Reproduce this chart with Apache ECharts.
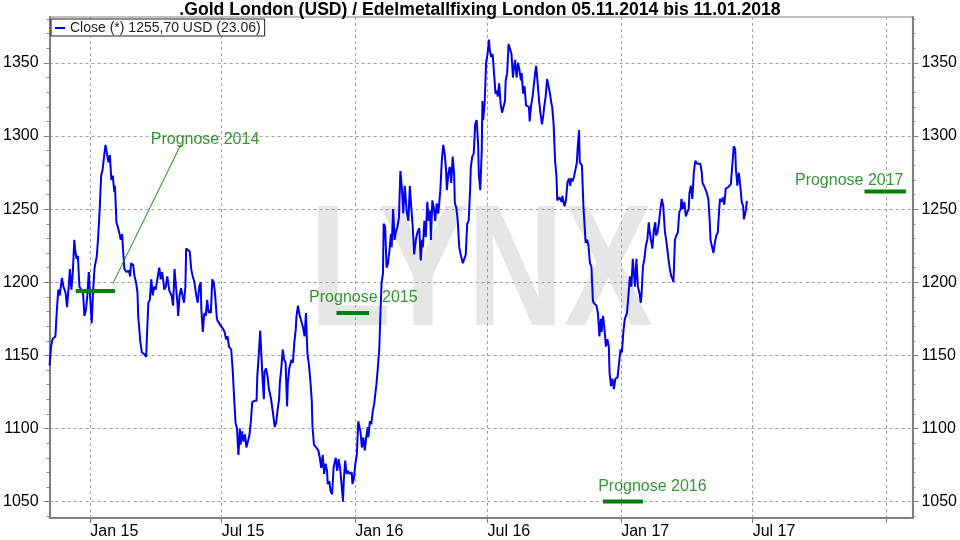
<!DOCTYPE html>
<html><head><meta charset="utf-8">
<script src="https://cdn.jsdelivr.net/npm/echarts@6/dist/echarts.min.js"></script>
<style>html,body{margin:0;padding:0;background:#fff}#c{width:960px;height:540px}</style>
</head><body><div id="c"></div>
<script>
const titleText = '.Gold London (USD) / Edelmetallfixing London 05.11.2014 bis 11.01.2018';
const legendText = 'Close (*) 1255,70 USD (23.06)';

// Close prices: [MM-DD, value] per year
const close2014 = [['11-06',1143],['11-08',1156],['11-10',1161],['11-14',1163],['11-16',1181],['11-18',1195],['11-20',1191],['11-23',1203],['11-25',1197],['11-28',1193],['11-30',1183],
['12-02',1195],['12-04',1209],['12-06',1195],['12-08',1207],['12-10',1229],['12-11',1223],['12-13',1216],['12-15',1218],['12-17',1197],['12-19',1196],['12-22',1193],['12-24',1177],['12-26',1181],['12-28',1191],['12-30',1207],['12-31',1197]];
const close2015 = [['01-03',1172],['01-05',1195],['01-07',1210],['01-10',1218],['01-12',1232],['01-14',1250],['01-16',1273],['01-18',1277],['01-20',1286],['01-22',1294],['01-24',1293],['01-26',1282],['01-28',1287],['01-30',1270],
['02-01',1273],['02-03',1262],['02-04',1266],['02-06',1241],['02-09',1236],['02-12',1229],['02-14',1233],['02-15',1223],['02-17',1209],['02-20',1207],['02-23',1208],['02-25',1204],['02-26',1213],
['03-01',1212],['03-03',1204],['03-05',1200],['03-07',1193],['03-08',1177],['03-11',1159],['03-13',1152],['03-16',1151],['03-19',1149],['03-20',1163],['03-22',1186],['03-24',1188],['03-26',1202],['03-28',1191],['03-30',1197],
['04-01',1195],['04-04',1204],['04-06',1210],['04-08',1202],['04-10',1207],['04-13',1195],['04-15',1197],['04-17',1204],['04-20',1194],['04-23',1191],['04-25',1184],['04-27',1209],['04-29',1197],
['05-01',1186],['05-02',1177],['05-04',1191],['05-06',1196],['05-08',1191],['05-10',1186],['05-12',1197],['05-13',1223],['05-15',1224],['05-18',1221],['05-20',1209],['05-22',1204],['05-24',1201],['05-27',1191],['05-29',1186],['05-31',1197],
['06-02',1200],['06-03',1181],['06-05',1166],['06-07',1179],['06-09',1177],['06-11',1188],['06-13',1179],['06-14',1181],['06-16',1179],['06-18',1202],['06-20',1200],['06-22',1191],['06-24',1177],['06-25',1174],['06-27',1175],['06-30',1170],
['07-03',1168],['07-05',1166],['07-07',1161],['07-09',1163],['07-11',1156],['07-14',1154],['07-16',1141],['07-18',1122],['07-20',1104],['07-22',1100],['07-24',1082],['07-26',1100],['07-27',1089],['07-29',1098],['07-31',1091],
['08-02',1096],['08-04',1087],['08-06',1086],['08-08',1095],['08-10',1104],['08-12',1118],['08-15',1119],['08-18',1119],['08-19',1136],['08-21',1150],['08-23',1167],['08-26',1136],['08-28',1120],['08-29',1139],['08-31',1141],
['09-02',1136],['09-04',1127],['09-07',1120],['09-08',1120],['09-10',1109],['09-12',1101],['09-14',1104],['09-16',1113],['09-18',1120],['09-19',1131],['09-21',1141],['09-23',1154],['09-25',1147],['09-27',1145],['09-29',1115],['09-30',1131],
['10-02',1141],['10-05',1147],['10-07',1145],['10-09',1159],['10-11',1168],['10-12',1177],['10-14',1184],['10-16',1178],['10-18',1177],['10-21',1169],['10-23',1163],['10-25',1179],['10-27',1151],['10-29',1144],['10-31',1133],
['11-02',1119],['11-03',1101],['11-05',1089],['11-08',1087],['11-11',1085],['11-13',1080],['11-15',1073],['11-17',1082],['11-19',1069],['11-21',1076],['11-23',1071],['11-24',1062],['11-26',1064],['11-28',1057],['11-30',1055],
['12-02',1073],['12-04',1078],['12-05',1080],['12-07',1071],['12-09',1079],['12-11',1073],['12-13',1074],['12-15',1050],['12-16',1064],['12-18',1078],['12-20',1069],['12-22',1071],['12-24',1069],['12-27',1070],['12-28',1062],['12-30',1066]];
const close2016 = [['01-01',1076],['01-03',1082],['01-05',1105],['01-07',1104],['01-08',1098],['01-10',1087],['01-12',1094],['01-14',1085],['01-16',1094],['01-18',1101],['01-19',1094],['01-21',1105],['01-23',1103],['01-25',1112],['01-27',1117],['01-29',1126],['01-30',1130],
['02-01',1142],['02-03',1155],['02-04',1171],['02-06',1199],['02-08',1206],['02-09',1240],['02-11',1238],['02-13',1210],['02-15',1213],['02-17',1222],['02-19',1233],['02-20',1224],['02-22',1250],['02-24',1229],['02-26',1235],['02-28',1238],
['03-01',1244],['03-03',1276],['03-05',1265],['03-07',1247],['03-09',1266],['03-11',1265],['03-12',1247],['03-14',1242],['03-16',1266],['03-18',1251],['03-20',1238],['03-22',1219],['03-23',1224],['03-25',1231],['03-27',1235],['03-29',1237],['03-31',1215],
['04-02',1229],['04-03',1224],['04-05',1242],['04-07',1231],['04-09',1255],['04-11',1242],['04-13',1249],['04-14',1229],['04-16',1256],['04-18',1251],['04-20',1242],['04-22',1254],['04-24',1247],['04-25',1251],['04-27',1263],['04-29',1283],
['05-01',1294],['05-03',1288],['05-05',1276],['05-06',1263],['05-08',1274],['05-10',1279],['05-12',1268],['05-14',1286],['05-16',1274],['05-17',1254],['05-19',1251],['05-21',1242],['05-23',1224],['05-25',1219],['05-27',1215],['05-28',1213],['05-30',1213],
['06-01',1219],['06-03',1240],['06-05',1242],['06-07',1263],['06-08',1279],['06-10',1286],['06-12',1288],['06-14',1308],['06-16',1311],['06-18',1295],['06-19',1274],['06-21',1263],['06-23',1290],['06-24',1324],['06-25',1311],['06-27',1322],['06-29',1350],
['07-01',1356],['07-03',1366],['07-04',1359],['07-06',1354],['07-08',1356],['07-10',1343],['07-12',1329],['07-14',1331],['07-15',1327],['07-17',1336],['07-19',1322],['07-21',1316],['07-23',1315],['07-25',1324],['07-26',1338],['07-28',1343],['07-30',1363],
['08-01',1362],['08-03',1356],['08-05',1340],['08-06',1345],['08-08',1352],['08-10',1340],['08-12',1350],['08-14',1345],['08-16',1338],['08-17',1343],['08-19',1329],['08-21',1334],['08-23',1321],['08-25',1320],['08-27',1320],['08-28',1310],['08-30',1321],
['09-01',1327],['09-03',1336],['09-05',1345],['09-06',1348],['09-08',1336],['09-10',1324],['09-12',1315],['09-14',1308],['09-16',1315],['09-17',1320],['09-19',1327],['09-21',1339],['09-23',1340],['09-25',1329],['09-27',1322],['09-28',1320],['09-30',1308],
['10-02',1283],['10-04',1272],['10-05',1256],['10-08',1258],['10-11',1255],['10-12',1259],['10-15',1252],['10-17',1256],['10-19',1268],['10-21',1271],['10-23',1266],['10-24',1271],['10-26',1269],['10-28',1272],['10-30',1273],
['11-01',1282],['11-02',1291],['11-04',1304],['11-05',1282],['11-08',1280],['11-10',1252],['11-12',1236],['11-13',1227],['11-15',1229],['11-17',1225],['11-19',1213],['11-21',1211],['11-23',1188],['11-24',1186],['11-26',1187],['11-28',1184],['11-30',1179],
['12-02',1163],['12-04',1175],['12-05',1166],['12-07',1177],['12-09',1168],['12-11',1156],['12-13',1161],['12-15',1156],['12-16',1138],['12-18',1129],['12-20',1134],['12-22',1127],['12-24',1134],['12-26',1134],['12-27',1135],['12-29',1136],['12-31',1154]];
const close2017 = [['01-02',1152],['01-04',1166],['01-06',1175],['01-07',1175],['01-09',1179],['01-11',1191],['01-13',1204],['01-15',1197],['01-17',1216],['01-18',1216],['01-20',1197],['01-22',1216],['01-24',1197],['01-26',1193],['01-28',1186],['01-29',1191],['01-31',1211],
['02-02',1216],['02-04',1225],['02-06',1229],['02-08',1241],['02-09',1236],['02-11',1229],['02-13',1223],['02-15',1236],['02-17',1241],['02-18',1232],['02-20',1234],['02-22',1241],['02-24',1250],['02-26',1257],['02-28',1252],
['03-02',1236],['03-03',1232],['03-05',1225],['03-07',1216],['03-09',1209],['03-11',1204],['03-13',1202],['03-14',1200],['03-16',1229],['03-18',1232],['03-20',1234],['03-22',1248],['03-24',1250],['03-25',1257],['03-27',1250],['03-29',1255],['03-31',1245],
['04-02',1248],['04-04',1250],['04-05',1261],['04-07',1266],['04-09',1257],['04-11',1275],['04-13',1283],['04-14',1282],['04-16',1281],['04-18',1282],['04-20',1281],['04-22',1275],['04-23',1268],['04-25',1266],['04-27',1265],['04-29',1261],
['05-01',1257],['05-03',1241],['05-04',1229],['05-06',1228],['05-08',1220],['05-10',1227],['05-12',1232],['05-14',1234],['05-16',1250],['05-17',1257],['05-19',1255],['05-21',1258],['05-23',1253],['05-25',1264],['05-27',1264],['05-28',1265],['05-30',1266],
['06-01',1267],['06-03',1280],['06-05',1293],['06-07',1291],['06-08',1277],['06-10',1266],['06-12',1275],['06-14',1266],['06-16',1255],['06-18',1252],['06-19',1243],['06-21',1243],['06-22',1250],['06-23',1255.7]];

// Axes
const xMin = '2014-11-06';
const xMax = '2018-02-06';
const xTickDates = ['2015-01-01','2015-07-01','2016-01-01','2016-07-01','2017-01-01','2017-07-01','2018-01-01'];
const xTickLabels = ['Jan 15','Jul 15','Jan 16','Jul 16','Jan 17','Jul 17',''];
const yMin = 1038.8, yMax = 1381.4;
const yTicks = [1050,1100,1150,1200,1250,1300,1350];
const yMinorTicks = [1040,1060,1070,1080,1090,1110,1120,1130,1140,1160,1170,1180,1190,1210,1220,1230,1240,1260,1270,1280,1290,1310,1320,1330,1340,1360,1370,1380];

// Forecasts (Prognose)
const prognoseNames = ['Prognose 2014','Prognose 2015','Prognose 2016','Prognose 2017'];
const prognoseValues = [1194, 1179, 1050, 1262];
const prognoseStart = ['2014-12-12','2015-12-06','2016-12-07','2017-12-02'];
const prognoseEnd = ['2015-02-04','2016-01-20','2017-01-31','2018-01-28'];
// label anchors (data coordinates)
const labelAnchorDates = ['2015-06-08','2016-01-12','2017-02-13','2017-11-11'];
const labelAnchorValues = [1297.5, 1189.6, 1060, 1269.7];
const leaderDates = ['2015-02-01','2015-05-06'];
const leaderValues = [1199, 1294.4];

const pd = s => echarts.number.parseDate(s).getTime();
const closeData = [];
[[2014, close2014],[2015, close2015],[2016, close2016],[2017, close2017]].forEach(([yr, arr]) => {
  arr.forEach(([md, v]) => closeData.push([pd(yr + '-' + md), v]));
});
const xTickValues = xTickDates.map(pd);
const xLabelValues = xTickValues.filter((v, i) => xTickLabels[i] !== '');

const FONT = '"Liberation Sans", Arial, sans-serif';
const GREEN = '#008000';
const AX = '#808080';
const GRIDC = '#a0a0a0';

const series = [{
  name: 'Close', type: 'line', data: closeData, showSymbol: false, symbol: 'none',
  lineStyle: {color: '#0000f0', width: 2}, itemStyle: {color: '#0000f0'}, z: 3, silent: true
}];
prognoseNames.forEach((n, i) => {
  series.push({
    name: n, type: 'line', symbol: 'none', silent: true, z: 4,
    data: [[pd(prognoseStart[i]), prognoseValues[i]], [pd(prognoseEnd[i]), prognoseValues[i]]],
    lineStyle: {color: GREEN, width: 4}
  });
});
series.push({
  name: 'leader', type: 'line', symbol: 'none', silent: true, z: 4,
  data: leaderDates.map((d, i) => [pd(d), leaderValues[i]]),
  lineStyle: {color: '#1a8a1a', width: 1}
});
series.push({
  name: 'labels', type: 'scatter', symbolSize: 0, silent: true, z: 5,
  data: prognoseNames.map((n, i) => ({name: n, value: [pd(labelAnchorDates[i]), labelAnchorValues[i]]})),
  label: {show: true, position: 'inside', formatter: p => p.name, color: '#007a00', fontSize: 16, fontFamily: FONT}
});

const yBase = {
  type: 'value', min: yMin, max: yMax, gridIndex: 0,
  axisLine: {show: true, lineStyle: {color: AX, width: 2}},
  splitLine: {show: false}
};
const yFmt = v => String(Math.round(v));

const option = {
  animation: false,
  backgroundColor: '#fff',
  textStyle: {fontFamily: FONT},
  title: {
    text: titleText, left: 'center', top: 1, padding: 0,
    textStyle: {fontSize: 17.6, fontWeight: 'bold', color: '#000', fontFamily: FONT}
  },
  legend: {
    data: ['Close'], left: 51, top: 19, orient: 'horizontal',
    formatter: () => legendText,
    icon: 'rect', itemWidth: 10, itemHeight: 2, itemGap: 4,
    padding: [2, 4, 1, 4], borderColor: '#222', borderWidth: 1, backgroundColor: '#fff',
    textStyle: {fontSize: 14, color: '#222', fontFamily: FONT},
    selectedMode: false, z: 10
  },
  grid: {left: 48, right: 47, top: 17, bottom: 22, show: true, borderColor: AX, borderWidth: 1, backgroundColor: 'transparent'},
  graphic: [{
    type: 'text', x: 481, y: 277, scaleX: 0.77, z: -10, silent: true,
    style: {text: 'LYNX', font: 'bold 173px "Liberation Sans", Arial, sans-serif', fill: '#e6e6e6', align: 'center', verticalAlign: 'middle'}
  }],
  xAxis: {
    type: 'value', min: pd(xMin), max: pd(xMax),
    axisLine: {show: true, lineStyle: {color: AX, width: 2}},
    axisTick: {show: true, customValues: xTickValues, length: 5, lineStyle: {color: AX}},
    axisLabel: {
      customValues: xLabelValues, align: 'left', margin: 6, fontSize: 16, color: '#000', fontFamily: FONT,
      formatter: v => { const i = xTickValues.findIndex(t => Math.abs(t - v) < 86400000); return i >= 0 ? xTickLabels[i] : ''; }
    },
    splitLine: {show: true, lineStyle: {color: GRIDC, type: [3, 3], width: 1}}
  },
  yAxis: [
    Object.assign({}, yBase, {
      position: 'left',
      axisTick: {show: true, customValues: yTicks, length: 6, lineStyle: {color: AX}},
      axisLabel: {customValues: yTicks, formatter: yFmt, fontSize: 16, color: '#000', margin: 11, fontFamily: FONT},
      splitLine: {show: true, lineStyle: {color: GRIDC, type: [3, 3], width: 1}}
    }),
    Object.assign({}, yBase, {
      position: 'right',
      axisTick: {show: true, customValues: yTicks, length: 6, lineStyle: {color: AX}},
      axisLabel: {customValues: yTicks, formatter: yFmt, fontSize: 16, color: '#000', margin: 9, fontFamily: FONT}
    }),
    Object.assign({}, yBase, {
      position: 'left', axisLine: {show: false},
      axisTick: {show: true, customValues: yMinorTicks, length: 3, lineStyle: {color: AX}},
      axisLabel: {show: false}
    }),
    Object.assign({}, yBase, {
      position: 'right', axisLine: {show: false},
      axisTick: {show: true, customValues: yMinorTicks, length: 3, lineStyle: {color: AX}},
      axisLabel: {show: false}
    })
  ],
  series: series
};
const chart = echarts.init(document.getElementById('c'), null, {renderer: 'canvas'});
chart.setOption(option);
</script></body></html>
